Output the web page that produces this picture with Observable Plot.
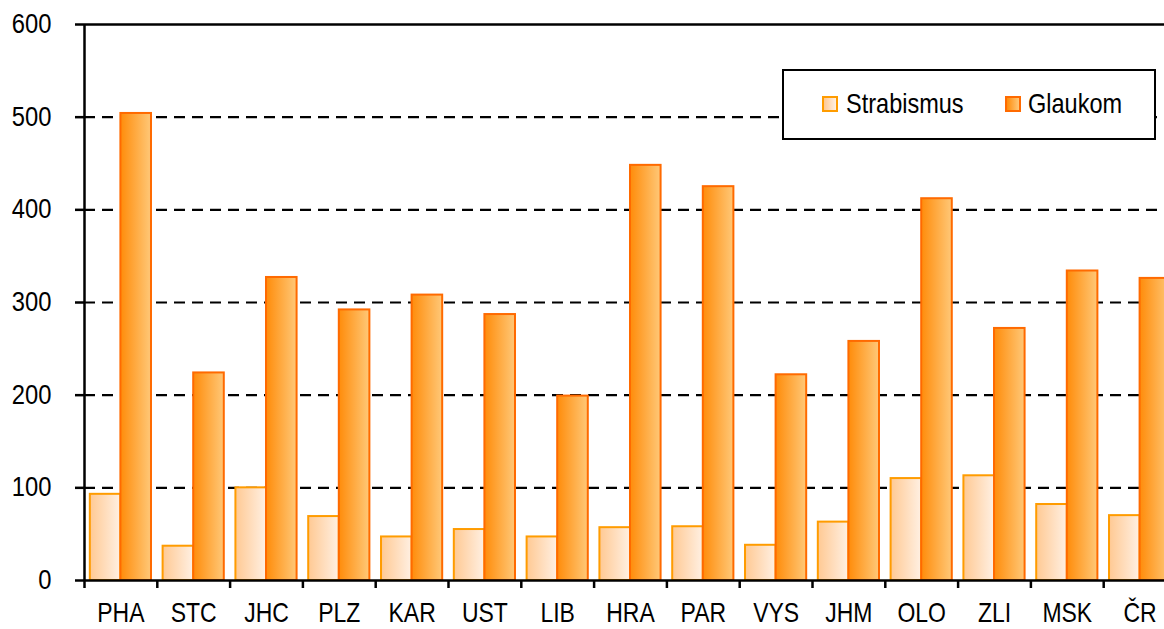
<!DOCTYPE html>
<html>
<head>
<meta charset="utf-8">
<script src="https://cdn.jsdelivr.net/npm/d3@7"></script>
<script src="https://cdn.jsdelivr.net/npm/@observablehq/plot@0.6"></script>
<style>
  html, body { margin: 0; padding: 0; background: #fff; overflow: hidden; }
  #wrap { position: relative; width: 1164px; height: 629px; overflow: hidden; }
  #wrap svg { display: block; max-width: none; }
  .legend {
    position: absolute; left: 782px; top: 69px; width: 374px; height: 71px;
    box-sizing: border-box; border: 2px solid #000; background: #fff;
    font-family: "Liberation Sans", Arial, sans-serif;
    font-size: 28px; color: #000;
  }
  .legend .sw { position: absolute; top: 25px; width: 16px; height: 16px; box-sizing: border-box; border: 2px solid; }
  .legend .lb { position: absolute; top: 19px; line-height: 28px; white-space: nowrap; transform: scaleX(0.84); transform-origin: left center; }
</style>
</head>
<body>
<div id="wrap"></div>
<script>
// Eye-care counts by region
const regions = ["PHA", "STC", "JHC", "PLZ", "KAR", "UST", "LIB", "HRA", "PAR", "VYS", "JHM", "OLO", "ZLI", "MSK", "ČR"];
const seriesNames = ["Strabismus", "Glaukom"];
const strabismus = [93, 37, 100, 69, 47, 55, 47, 57, 58, 38, 63, 110, 113, 82, 70];
const glaukom = [504, 224, 327, 292, 308, 287, 199, 448, 425, 222, 258, 412, 272, 334, 326];
const yTicks = [0, 100, 200, 300, 400, 500, 600];
const gridValues = [100, 200, 300, 400, 500];

const rows = regions.flatMap((region, i) => [
  {region, series: "Strabismus", value: strabismus[i]},
  {region, series: "Glaukom", value: glaukom[i]}
]);

const width = 1176, marginLeft = 84, marginRight = 0;
const step = (width - marginLeft - marginRight) / regions.length;

// Split each region band into two adjacent bars
const sub = d3.scaleBand(seriesNames, [0, step]).paddingInner(0).paddingOuter(0.19);
const insets = s => ({insetLeft: sub(s), insetRight: step - sub(s) - sub.bandwidth()});

const fonts = '"Liberation Sans", Arial, sans-serif';

// Horizontal gradients used as bar fills
const gradients = () => {
  const defs = d3.create("svg:defs");
  const add = (id, from, to) => {
    const g = defs.append("linearGradient").attr("id", id).attr("x1", "0").attr("x2", "1").attr("y1", "0").attr("y2", "0");
    g.append("stop").attr("offset", "0").attr("stop-color", from);
    g.append("stop").attr("offset", "1").attr("stop-color", to);
  };
  add("grad-strab", "#FFC993", "#FFF0E3");
  add("grad-glauk", "#FF8C0A", "#FFC878");
  return defs.node();
};

const chart = Plot.plot({
  width,
  height: 629,
  marginLeft,
  marginRight,
  marginTop: 24,
  marginBottom: 49,
  style: {fontFamily: fonts, color: "#000", background: "#fff", maxWidth: "none"},
  x: {domain: regions, padding: 0, round: false},
  y: {domain: [0, 600]},
  marks: [
    gradients,
    Plot.ruleY(gridValues, {stroke: "#000", strokeWidth: 2.2, strokeDasharray: "11,7"}),
    Plot.barY(rows.filter(d => d.series === "Strabismus"), {
      x: "region", y: "value", ...insets("Strabismus"),
      fill: "url(#grad-strab)", stroke: "#FF9C00", strokeWidth: 2
    }),
    Plot.barY(rows.filter(d => d.series === "Glaukom"), {
      x: "region", y: "value", ...insets("Glaukom"),
      fill: "url(#grad-glauk)", stroke: "#FF6A00", strokeWidth: 2
    }),
    Plot.ruleY([0], {stroke: "#000", strokeWidth: 2.5}),
    Plot.ruleY([600], {stroke: "#000", strokeWidth: 2.5}),
    Plot.ruleX([regions[0]], {y1: 0, y2: 600, dx: -step / 2, stroke: "#000", strokeWidth: 2.5}),
    Plot.axisY(yTicks, {tickSize: 9, tickPadding: 24, fontSize: 27, strokeWidth: 2.5, label: null, tickFormat: d => d}),
    Plot.axisX({tickSize: 8, tickFormat: () => "", dx: -step / 2, strokeWidth: 2.5, label: null}),
    Plot.axisX({tickSize: 0, tickPadding: 22, fontSize: 28, label: null})
  ]
});

const wrap = document.getElementById("wrap");
wrap.appendChild(chart);

// Condense axis lettering horizontally, keeping each label's anchor
function condense(root, selector, k) {
  root.querySelectorAll(selector).forEach(t => {
    if (!t.textContent) return;
    const len = t.getComputedTextLength();
    t.setAttribute("textLength", (len * k).toFixed(2));
    t.setAttribute("lengthAdjust", "spacingAndGlyphs");
  });
}
condense(chart, '[aria-label="y-axis tick label"] text', 0.88);
condense(chart, '[aria-label="x-axis tick label"] text', 0.82);

// Legend box drawn over the upper right of the plot
const legend = document.createElement("div");
legend.className = "legend";
legend.innerHTML = `
  <span class="sw" style="left:38px;border-color:#FF9C00;background:linear-gradient(90deg,#FFC993,#FFF0E3)"></span>
  <span class="lb" style="left:62px">Strabismus</span>
  <span class="sw" style="left:221px;border-color:#FF6A00;background:linear-gradient(90deg,#FF8C0A,#FFC878)"></span>
  <span class="lb" style="left:244px">Glaukom</span>`;
wrap.appendChild(legend);
</script>
</body>
</html>
